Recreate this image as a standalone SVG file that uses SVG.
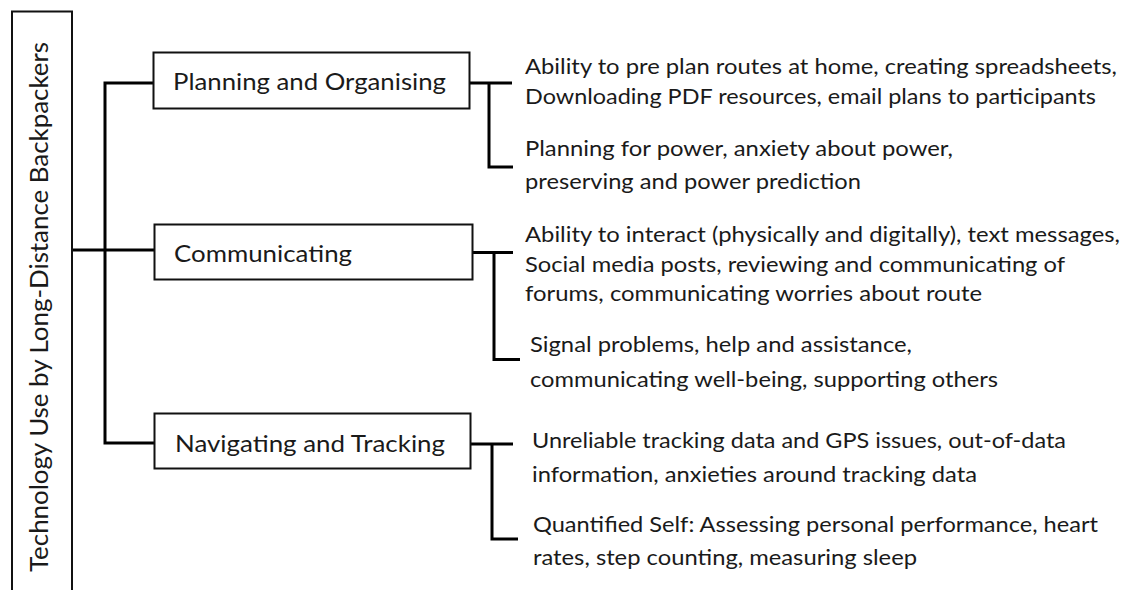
<svg xmlns="http://www.w3.org/2000/svg" width="1128" height="590" viewBox="0 0 1128 590">
<style>
.box{fill:#fff;stroke:#111;stroke-width:2}
.con{fill:none;stroke:#000;stroke-width:3}
.lbl{font-family:Lato,"Liberation Sans",sans-serif;font-size:23.5px;fill:#1a1a1a}
.txt{font-family:Lato,"Liberation Sans",sans-serif;font-size:21.5px;fill:#1a1a1a}
.ttl{font-family:Lato,"Liberation Sans",sans-serif;font-size:25px;fill:#1a1a1a}
</style>
<rect width="1128" height="590" fill="#fff"/>
<g id="connectors">
<path class="con" d="M72 250H155"/>
<path class="con" d="M154 83H105V443H155"/>
<path class="con" d="M469 83H512M489 83V167H513"/>
<path class="con" d="M473 252.5H513M494 252.5V359.5H520"/>
<path class="con" d="M470 444H513M492 444V539H518"/>
</g>
<g id="root">
<rect class="box" x="12" y="11.5" width="60" height="600"/>
<text class="ttl" transform="translate(48 572) rotate(-90)" textLength="530" lengthAdjust="spacingAndGlyphs">Technology Use by Long-Distance Backpackers</text>
</g>
<g id="planning">
<rect class="box" x="153.5" y="52.5" width="316" height="56"/>
<text class="lbl" x="173" y="90" textLength="273" lengthAdjust="spacingAndGlyphs">Planning and Organising</text>
</g>
<g id="communicating">
<rect class="box" x="154.5" y="224.5" width="318" height="55"/>
<text class="lbl" x="174" y="262" textLength="178" lengthAdjust="spacingAndGlyphs">Communicating</text>
</g>
<g id="navigating">
<rect class="box" x="154.5" y="413.5" width="316" height="55"/>
<text class="lbl" x="175" y="452" textLength="270" lengthAdjust="spacingAndGlyphs">Navigating and Tracking</text>
</g>
<g id="planning-1">
<text class="txt" x="525" y="74" textLength="592" lengthAdjust="spacingAndGlyphs">Ability to pre plan routes at home, creating spreadsheets,</text>
<text class="txt" x="525" y="104" textLength="571" lengthAdjust="spacingAndGlyphs">Downloading PDF resources, email plans to participants</text>
</g>
<g id="planning-2">
<text class="txt" x="525" y="156" textLength="428" lengthAdjust="spacingAndGlyphs">Planning for power, anxiety about power,</text>
<text class="txt" x="525" y="189" textLength="336" lengthAdjust="spacingAndGlyphs">preserving and power prediction</text>
</g>
<g id="communicating-1">
<text class="txt" x="525" y="242" textLength="595" lengthAdjust="spacingAndGlyphs">Ability to interact (physically and digitally), text messages,</text>
<text class="txt" x="525" y="272" textLength="540" lengthAdjust="spacingAndGlyphs">Social media posts, reviewing and communicating of</text>
<text class="txt" x="525" y="301" textLength="457" lengthAdjust="spacingAndGlyphs">forums, communicating worries about route</text>
</g>
<g id="communicating-2">
<text class="txt" x="530" y="352" textLength="382" lengthAdjust="spacingAndGlyphs">Signal problems, help and assistance,</text>
<text class="txt" x="530" y="387" textLength="468" lengthAdjust="spacingAndGlyphs">communicating well-being, supporting others</text>
</g>
<g id="navigating-1">
<text class="txt" x="532" y="448" textLength="534" lengthAdjust="spacingAndGlyphs">Unreliable tracking data and GPS issues, out-of-data</text>
<text class="txt" x="532" y="482" textLength="445" lengthAdjust="spacingAndGlyphs">information, anxieties around tracking data</text>
</g>
<g id="navigating-2">
<text class="txt" x="533" y="532" textLength="565" lengthAdjust="spacingAndGlyphs">Quantified Self: Assessing personal performance, heart</text>
<text class="txt" x="533" y="565" textLength="384" lengthAdjust="spacingAndGlyphs">rates, step counting, measuring sleep</text>
</g>
</svg>
